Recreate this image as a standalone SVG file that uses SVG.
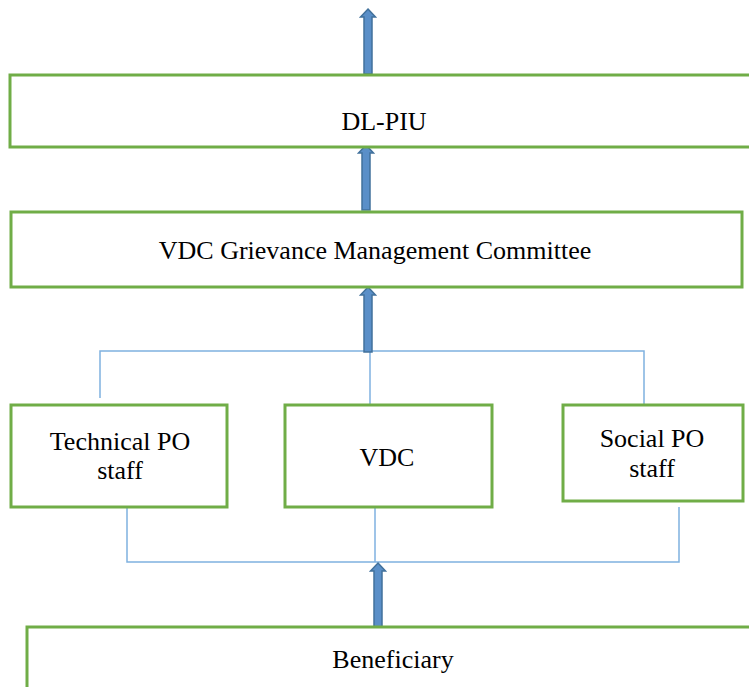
<svg xmlns="http://www.w3.org/2000/svg" width="749" height="687" viewBox="0 0 749 687">
  <style>
    .box { fill: #ffffff; stroke: #70AD47; stroke-width: 3; }
    .lbl { font-size: 26px; fill: #000000; text-anchor: middle; }
    .link { fill: none; stroke: #7FB1E0; stroke-width: 1.5; }
    .up { fill: #5A8FC8; stroke: #41719C; stroke-width: 1.5; stroke-linejoin: miter; }
  </style>
  <defs>
    <!-- block arrow pointing up, tip at (0,0), 65 px long -->
    <path id="uparrow" class="up" d="M0,0 L7.5,8 L4,8 L4,65 L-4,65 L-4,8 L-7.5,8 Z"/>
  </defs>

  <!-- connectors -->
  <g id="connectors">
    <path class="link" d="M100,398 V351 H644 V404"/>
    <path class="link" d="M370,351 V405"/>
    <path class="link" d="M127,507 V562 H679 V507"/>
    <path class="link" d="M375,507 V562"/>
    <use href="#uparrow" x="368" y="9"/>
    <use href="#uparrow" x="366" y="145"/>
    <use href="#uparrow" x="368" y="287"/>
    <use href="#uparrow" x="378" y="563"/>
  </g>

  <g font-family="'Liberation Serif', 'DejaVu Serif', 'Times New Roman', serif">
    <g id="dl-piu">
      <rect class="box" x="10" y="75" width="750" height="72"/>
      <text class="lbl" x="384" y="130">DL-PIU</text>
    </g>

    <g id="vdc-gmc">
      <rect class="box" x="11" y="212" width="731" height="75"/>
      <text class="lbl" x="375" y="259">VDC Grievance Management Committee</text>
    </g>

    <g id="technical-po">
      <rect class="box" x="11" y="405" width="216" height="102"/>
      <text class="lbl" x="120" y="450">Technical PO</text>
      <text class="lbl" x="120" y="479">staff</text>
    </g>

    <g id="vdc">
      <rect class="box" x="285" y="405" width="207" height="102"/>
      <text class="lbl" x="387" y="466">VDC</text>
    </g>

    <g id="social-po">
      <rect class="box" x="563" y="405" width="180" height="96"/>
      <text class="lbl" x="652" y="447">Social PO</text>
      <text class="lbl" x="652" y="477">staff</text>
    </g>

    <g id="beneficiary">
      <rect class="box" x="27" y="627" width="740" height="80"/>
      <text class="lbl" x="393" y="668">Beneficiary</text>
    </g>
  </g>
</svg>
